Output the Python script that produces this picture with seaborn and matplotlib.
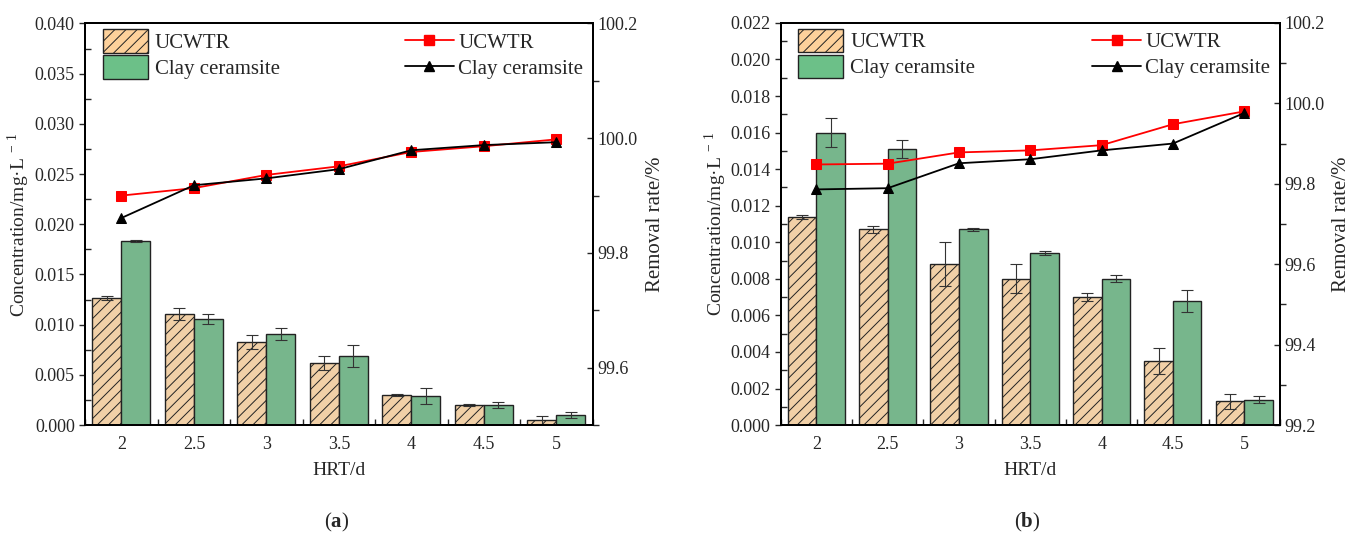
import numpy as np
import pandas as pd
import seaborn as sns
import matplotlib.pyplot as plt
from matplotlib.ticker import MultipleLocator
from matplotlib.patches import Patch
from matplotlib.lines import Line2D

sns.set_style("ticks")
plt.rcParams['font.family'] = ['Liberation Serif', 'DejaVu Serif']
plt.rcParams['mathtext.fontset'] = 'custom'
plt.rcParams['mathtext.rm'] = 'Liberation Serif'
plt.rcParams['mathtext.bf'] = 'Liberation Serif:bold'
plt.rcParams['hatch.color'] = '#3a3a3a'
plt.rcParams['hatch.linewidth'] = 0.7

hrt = ['2', '2.5', '3', '3.5', '4', '4.5', '5']
materials = ['UCWTR', 'Clay ceramsite']

# panel (a)
a_conc_ucwtr = [0.0127, 0.0111, 0.0083, 0.0062, 0.0030, 0.0020, 0.0005]
a_err_ucwtr = [0.0002, 0.0006, 0.0007, 0.0007, 0.0001, 0.0001, 0.0004]
a_conc_clay = [0.0183, 0.0106, 0.0091, 0.0069, 0.0029, 0.0020, 0.0010]
a_err_clay = [0.0001, 0.0005, 0.0006, 0.0011, 0.0008, 0.0003, 0.0003]
a_rem_ucwtr = [99.900, 99.913, 99.936, 99.951, 99.976, 99.986, 99.998]
a_rem_clay = [99.861, 99.918, 99.930, 99.946, 99.979, 99.988, 99.993]

# panel (b)
b_conc_ucwtr = [0.0114, 0.0107, 0.0088, 0.0080, 0.0070, 0.0035, 0.0013]
b_err_ucwtr = [0.0001, 0.0002, 0.0012, 0.0008, 0.0002, 0.0007, 0.0004]
b_conc_clay = [0.0160, 0.0151, 0.0107, 0.0094, 0.0080, 0.0068, 0.0014]
b_err_clay = [0.0008, 0.0005, 0.0001, 0.0001, 0.0002, 0.0006, 0.0002]
b_rem_ucwtr = [99.848, 99.850, 99.878, 99.883, 99.896, 99.948, 99.980]
b_rem_clay = [99.786, 99.789, 99.851, 99.861, 99.883, 99.900, 99.976]

bar_colors = ['#FDD19B', '#6CC088']
line_colors = ['#FF0000', '#000000']
line_markers = ['s', '^']


def draw_panel(ax, conc_u, err_u, conc_c, err_c, rem_u, rem_c,
               ymax, ystep, rlim, rstep, caption):
    df = pd.DataFrame({
        'HRT': hrt * 2,
        'Material': [materials[0]] * len(hrt) + [materials[1]] * len(hrt),
        'Conc': conc_u + conc_c,
        'Err': err_u + err_c,
    })
    sns.barplot(data=df, x='HRT', y='Conc', hue='Material', order=hrt,
                hue_order=materials, palette=bar_colors, width=0.8,
                edgecolor='#222222', linewidth=1.0, legend=False, ax=ax,
                errorbar=None)
    patches = [p for p in ax.patches]
    n = len(hrt)
    for i, p in enumerate(patches[:2 * n]):
        if i < n:
            p.set_hatch('///')
        xc = p.get_x() + p.get_width() / 2
        ax.errorbar(xc, df['Conc'][i], yerr=df['Err'][i], color='#333333',
                    lw=0.8, capsize=4, capthick=0.8)

    ax.set_ylim(0, ymax)
    ax.set_xlim(-0.5, n - 0.5)
    ax.yaxis.set_major_locator(MultipleLocator(ystep))
    ax.yaxis.set_minor_locator(MultipleLocator(ystep / 2))
    ax.yaxis.set_major_formatter(plt.FormatStrFormatter('%.3f'))
    ax.tick_params(axis='y', which='major', direction='out', length=4, width=1, labelsize=13)
    ax.tick_params(axis='y', which='minor', direction='in', length=4, width=1)
    ax.xaxis.set_minor_locator(MultipleLocator(1, offset=0.5))
    ax.tick_params(axis='x', which='major', direction='out', length=0, labelsize=13, pad=8)
    ax.tick_params(axis='x', which='minor', direction='in', length=4, width=1)
    ax.set_xlabel('HRT/d', fontsize=14, labelpad=6)
    ax.set_ylabel('Concentration/mg·L$^{\\,-\\,1}$', fontsize=14)
    ax.yaxis.set_label_coords(-0.104, 0.5)
    for s in ax.spines.values():
        s.set_linewidth(1.4)
        s.set_color('black')

    ax2 = ax.twinx()
    xpos = list(range(n))
    for rem, col, mk in zip([rem_u, rem_c], line_colors, line_markers):
        sns.lineplot(x=xpos, y=rem, color=col, marker=mk, markersize=7,
                     markeredgecolor=col, linewidth=1.3, ax=ax2)
    ax2.set_ylim(*rlim)
    ax2.yaxis.set_major_locator(MultipleLocator(rstep))
    ax2.yaxis.set_minor_locator(MultipleLocator(rstep / 2))
    ax2.yaxis.set_major_formatter(plt.FormatStrFormatter('%.1f'))
    ax2.tick_params(axis='y', which='major', direction='in', length=4, width=1, labelsize=13)
    ax2.tick_params(axis='y', which='minor', direction='out', length=4, width=1)
    ax2.set_ylabel('Removal rate/%', fontsize=15)
    ax2.yaxis.set_label_coords(1.105, 0.5)
    for s in ax2.spines.values():
        s.set_linewidth(1.4)
        s.set_color('black')

    bar_handles = [Patch(facecolor=bar_colors[0], edgecolor='#222222', hatch='///'),
                   Patch(facecolor=bar_colors[1], edgecolor='#222222')]
    leg1 = ax2.legend(bar_handles, materials, loc='upper left', frameon=False,
                      fontsize=15, handlelength=2.15, handleheight=1.35,
                      labelspacing=0.12, handletextpad=0.35,
                      bbox_to_anchor=(0.006, 1.022), borderaxespad=0.3)
    ax2.add_artist(leg1)
    line_handles = [Line2D([], [], color=c, marker=m, markersize=7, lw=1.3)
                    for c, m in zip(line_colors, line_markers)]
    ax2.legend(line_handles, materials, loc='upper right', frameon=False,
               fontsize=15, handlelength=2.35, labelspacing=0.3,
               handletextpad=0.2, bbox_to_anchor=(1.01, 1.012), borderaxespad=0.3)

    pos = ax.get_position()
    fig.text(pos.x0 + pos.width * 0.5 - 0.002, 0.02, caption, ha='center', va='bottom', fontsize=15)


fig = plt.figure(figsize=(13.53, 5.45), dpi=100)
ax_a = fig.add_axes([0.063, 0.22, 0.375, 0.737])
ax_b = fig.add_axes([0.577, 0.22, 0.369, 0.738])

draw_panel(ax_a, a_conc_ucwtr, a_err_ucwtr, a_conc_clay, a_err_clay,
           a_rem_ucwtr, a_rem_clay, 0.040, 0.005, (99.5, 100.2), 0.2, '($\\mathbf{a}$)')
draw_panel(ax_b, b_conc_ucwtr, b_err_ucwtr, b_conc_clay, b_err_clay,
           b_rem_ucwtr, b_rem_clay, 0.022, 0.002, (99.2, 100.2), 0.2, '($\\mathbf{b}$)')

fig.savefig('out.png', dpi=100)
